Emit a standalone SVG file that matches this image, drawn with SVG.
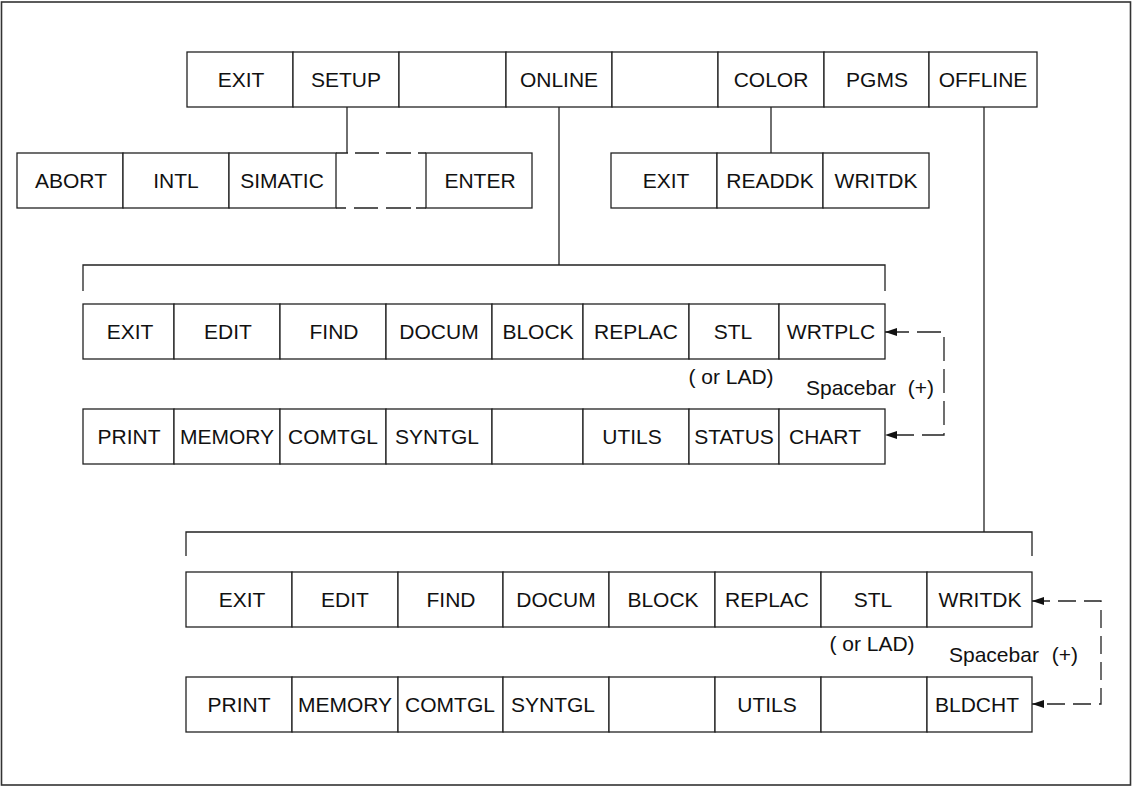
<svg xmlns="http://www.w3.org/2000/svg" width="1132" height="787" viewBox="0 0 1132 787">
<style>
.frame{fill:#fff;stroke:#333;stroke-width:1.6}
.cell{fill:#fff;stroke:#222;stroke-width:1.3}
.t{font-family:"Liberation Sans",Arial,sans-serif;font-size:21px;fill:#111;text-anchor:middle}
.ts{font-family:"Liberation Sans",Arial,sans-serif;font-size:21px;fill:#111}
.ln{fill:none;stroke:#222;stroke-width:1.3}
.dash{fill:none;stroke:#222;stroke-width:1.3;stroke-dasharray:18 8}
</style>
<defs>
<marker id="ah" viewBox="0 0 12 8" refX="12" refY="4" markerWidth="12" markerHeight="8" markerUnits="userSpaceOnUse" orient="auto-start-reverse">
<path d="M0,0 L12,4 L0,8 z" fill="#111"/>
</marker>
</defs>
<rect class="frame" x="1.5" y="2" width="1129" height="783"/>

<g id="connectors">
<path class="ln" d="M347,107 V153"/>
<path class="ln" d="M771,107 V153"/>
<path class="ln" d="M559,107 V265"/>
<path class="ln" d="M83,291 V265 H885 V291"/>
<path class="ln" d="M984,107 V532"/>
<path class="ln" d="M186,556 V532 H1032 V556"/>
<path class="dash" style="stroke-dasharray:24 8" d="M885,332 H944 V435 H885" marker-start="url(#ah)" marker-end="url(#ah)"/>
<path class="dash" d="M1032,601 H1101 V704 H1032" marker-start="url(#ah)" marker-end="url(#ah)"/>
</g>

<g id="main-menu">
<g id="m-exit"><rect class="cell" x="187" y="52" width="106" height="55"/><text class="t" x="241" y="87">EXIT</text></g>
<g id="m-setup"><rect class="cell" x="293" y="52" width="106" height="55"/><text class="t" x="346" y="87">SETUP</text></g>
<g id="m-blank1"><rect class="cell" x="399" y="52" width="107" height="55"/></g>
<g id="m-online"><rect class="cell" x="506" y="52" width="106" height="55"/><text class="t" x="559" y="87">ONLINE</text></g>
<g id="m-blank2"><rect class="cell" x="612" y="52" width="106" height="55"/></g>
<g id="m-color"><rect class="cell" x="718" y="52" width="106" height="55"/><text class="t" x="771" y="87">COLOR</text></g>
<g id="m-pgms"><rect class="cell" x="824" y="52" width="105" height="55"/><text class="t" x="877" y="87">PGMS</text></g>
<g id="m-offline"><rect class="cell" x="929" y="52" width="108" height="55"/><text class="t" x="983" y="87">OFFLINE</text></g>
</g>

<g id="setup-menu">
<g id="s-abort"><rect class="cell" x="17" y="153" width="106" height="55"/><text class="t" x="71" y="188">ABORT</text></g>
<g id="s-intl"><rect class="cell" x="123" y="153" width="106" height="55"/><text class="t" x="176" y="188">INTL</text></g>
<g id="s-simatic"><rect class="cell" x="229" y="153" width="107" height="55"/><text class="t" x="282" y="188">SIMATIC</text></g>
<g id="s-dashed">
<path class="ln" style="stroke-dasharray:12 7 24 7 25 7 8" d="M336,153 H426"/>
<path class="ln" style="stroke-dasharray:10 8 24 8 25 5 10" d="M336,208 H426"/>
</g>
<g id="s-enter"><rect class="cell" x="426" y="153" width="106" height="55"/><text class="t" x="480" y="188">ENTER</text></g>
</g>

<g id="color-menu">
<g id="c-exit"><rect class="cell" x="611" y="153" width="106" height="55"/><text class="t" x="666" y="188">EXIT</text></g>
<g id="c-readdk"><rect class="cell" x="717" y="153" width="106" height="55"/><text class="t" x="770" y="188">READDK</text></g>
<g id="c-writdk"><rect class="cell" x="823" y="153" width="106" height="55"/><text class="t" x="876" y="188">WRITDK</text></g>
</g>

<g id="online-row1">
<g id="on-exit"><rect class="cell" x="83" y="304" width="91" height="55"/><text class="t" x="130" y="339">EXIT</text></g>
<g id="on-edit"><rect class="cell" x="174" y="304" width="106" height="55"/><text class="t" x="228" y="339">EDIT</text></g>
<g id="on-find"><rect class="cell" x="280" y="304" width="106" height="55"/><text class="t" x="334" y="339">FIND</text></g>
<g id="on-docum"><rect class="cell" x="386" y="304" width="106" height="55"/><text class="t" x="439" y="339">DOCUM</text></g>
<g id="on-block"><rect class="cell" x="492" y="304" width="91" height="55"/><text class="t" x="538" y="339">BLOCK</text></g>
<g id="on-replac"><rect class="cell" x="583" y="304" width="106" height="55"/><text class="t" x="636" y="339">REPLAC</text></g>
<g id="on-stl"><rect class="cell" x="689" y="304" width="90" height="55"/><text class="t" x="733" y="339">STL</text></g>
<g id="on-wrtplc"><rect class="cell" x="779" y="304" width="106" height="55"/><text class="t" x="831" y="339">WRTPLC</text></g>
</g>
<text class="t" x="731" y="384">( or LAD)</text>
<text class="ts" x="806" y="395">Spacebar</text>
<text class="ts" x="934" y="395" text-anchor="end">(+)</text>

<g id="online-row2">
<g id="on-print"><rect class="cell" x="83" y="409" width="91" height="55"/><text class="t" x="129" y="444">PRINT</text></g>
<g id="on-memory"><rect class="cell" x="174" y="409" width="106" height="55"/><text class="t" x="227" y="444">MEMORY</text></g>
<g id="on-comtgl"><rect class="cell" x="280" y="409" width="106" height="55"/><text class="t" x="333" y="444">COMTGL</text></g>
<g id="on-syntgl"><rect class="cell" x="386" y="409" width="106" height="55"/><text class="t" x="437" y="444">SYNTGL</text></g>
<g id="on-blank"><rect class="cell" x="492" y="409" width="91" height="55"/></g>
<g id="on-utils"><rect class="cell" x="583" y="409" width="106" height="55"/><text class="t" x="632" y="444">UTILS</text></g>
<g id="on-status"><rect class="cell" x="689" y="409" width="90" height="55"/><text class="t" x="734" y="444">STATUS</text></g>
<g id="on-chart"><rect class="cell" x="779" y="409" width="106" height="55"/><text class="t" x="825" y="444">CHART</text></g>
</g>

<g id="offline-row1">
<g id="off-exit"><rect class="cell" x="186" y="572" width="106" height="55"/><text class="t" x="242" y="607">EXIT</text></g>
<g id="off-edit"><rect class="cell" x="292" y="572" width="106" height="55"/><text class="t" x="345" y="607">EDIT</text></g>
<g id="off-find"><rect class="cell" x="398" y="572" width="105" height="55"/><text class="t" x="451" y="607">FIND</text></g>
<g id="off-docum"><rect class="cell" x="503" y="572" width="106" height="55"/><text class="t" x="556" y="607">DOCUM</text></g>
<g id="off-block"><rect class="cell" x="609" y="572" width="106" height="55"/><text class="t" x="663" y="607">BLOCK</text></g>
<g id="off-replac"><rect class="cell" x="715" y="572" width="106" height="55"/><text class="t" x="767" y="607">REPLAC</text></g>
<g id="off-stl"><rect class="cell" x="821" y="572" width="106" height="55"/><text class="t" x="873" y="607">STL</text></g>
<g id="off-writdk"><rect class="cell" x="927" y="572" width="105" height="55"/><text class="t" x="980" y="607">WRITDK</text></g>
</g>
<text class="t" x="872" y="651">( or LAD)</text>
<text class="ts" x="949" y="662">Spacebar</text>
<text class="ts" x="1078" y="662" text-anchor="end">(+)</text>

<g id="offline-row2">
<g id="off-print"><rect class="cell" x="186" y="677" width="106" height="55"/><text class="t" x="239" y="712">PRINT</text></g>
<g id="off-memory"><rect class="cell" x="292" y="677" width="106" height="55"/><text class="t" x="345" y="712">MEMORY</text></g>
<g id="off-comtgl"><rect class="cell" x="398" y="677" width="105" height="55"/><text class="t" x="450" y="712">COMTGL</text></g>
<g id="off-syntgl"><rect class="cell" x="503" y="677" width="106" height="55"/><text class="t" x="553" y="712">SYNTGL</text></g>
<g id="off-blank1"><rect class="cell" x="609" y="677" width="106" height="55"/></g>
<g id="off-utils"><rect class="cell" x="715" y="677" width="106" height="55"/><text class="t" x="767" y="712">UTILS</text></g>
<g id="off-blank2"><rect class="cell" x="821" y="677" width="106" height="55"/></g>
<g id="off-bldcht"><rect class="cell" x="927" y="677" width="105" height="55"/><text class="t" x="977" y="712">BLDCHT</text></g>
</g>
</svg>
